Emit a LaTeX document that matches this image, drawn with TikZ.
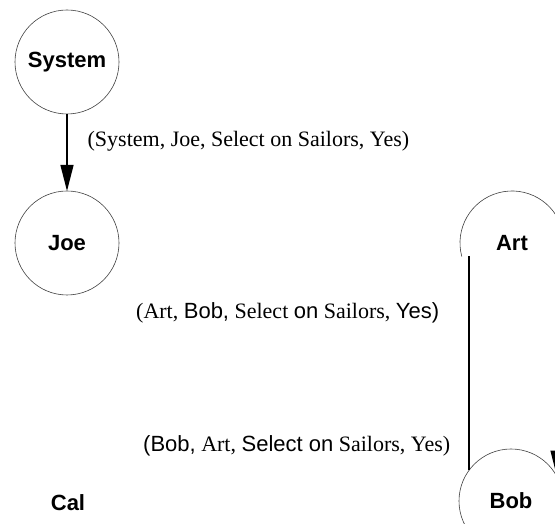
\documentclass[tikz,border=0pt]{standalone}
\usepackage{fontspec}
\setmainfont{Liberation Serif}
\setsansfont{Liberation Sans}
\usetikzlibrary{arrows.meta}

\begin{document}
\begin{tikzpicture}[
    x=1pt, y=1pt,
    % Stijl voor de deelnemers (cirkels)
    ring/.style={circle, draw=black!75, line width=0.6pt, minimum size=104pt,
                 inner sep=0pt, outer sep=0pt, font=\sffamily\bfseries\fontsize{22}{26}\selectfont},
    bare/.style={ring, draw=none},
    % Stijl voor de berichten
    msg/.style={anchor=west, inner sep=0pt, font=\fontsize{22}{26}\selectfont},
    arrow/.style={line width=1.3pt, -{Triangle[length=26pt, width=13pt]}},
    link/.style={line width=1.3pt}
]
\useasboundingbox (0,0) rectangle (555,524);

% --- Deelnemers ---
\node[ring] (system) at (67,462) {System};
\node[ring] (joe) at (67,281) {Joe};
\node[bare] (art) at (512,281) {Art};
\node[bare] (cal) at (68,21) {Cal};
\node[ring] (bob) at (511,23) {Bob};

% --- Restant van de cirkel rond Art ---
\draw[black!75, line width=0.6pt] (art.195) arc[start angle=195, end angle=-30, radius=52pt];

% --- Berichten ---
\draw[arrow] (system) -- node[msg, pos=0.36, xshift=20pt] (m1)
    {(System, Joe, Select on Sailors, Yes)} (joe);
\draw[arrow] (art.-28) -- (bob.28);
\draw[link] (bob.144) -- (bob.144 |- art.195);

\node[msg] (m2) at (136,211.5)
    {(Art, \textsf{Bob,} Select \textsf{on} Sailors, \textsf{Yes)}};
\node[msg] (m3) at (143,78)
    {\textsf{(Bob,} Art, \textsf{Select on} Sailors, Yes)};

\end{tikzpicture}
\end{document}
